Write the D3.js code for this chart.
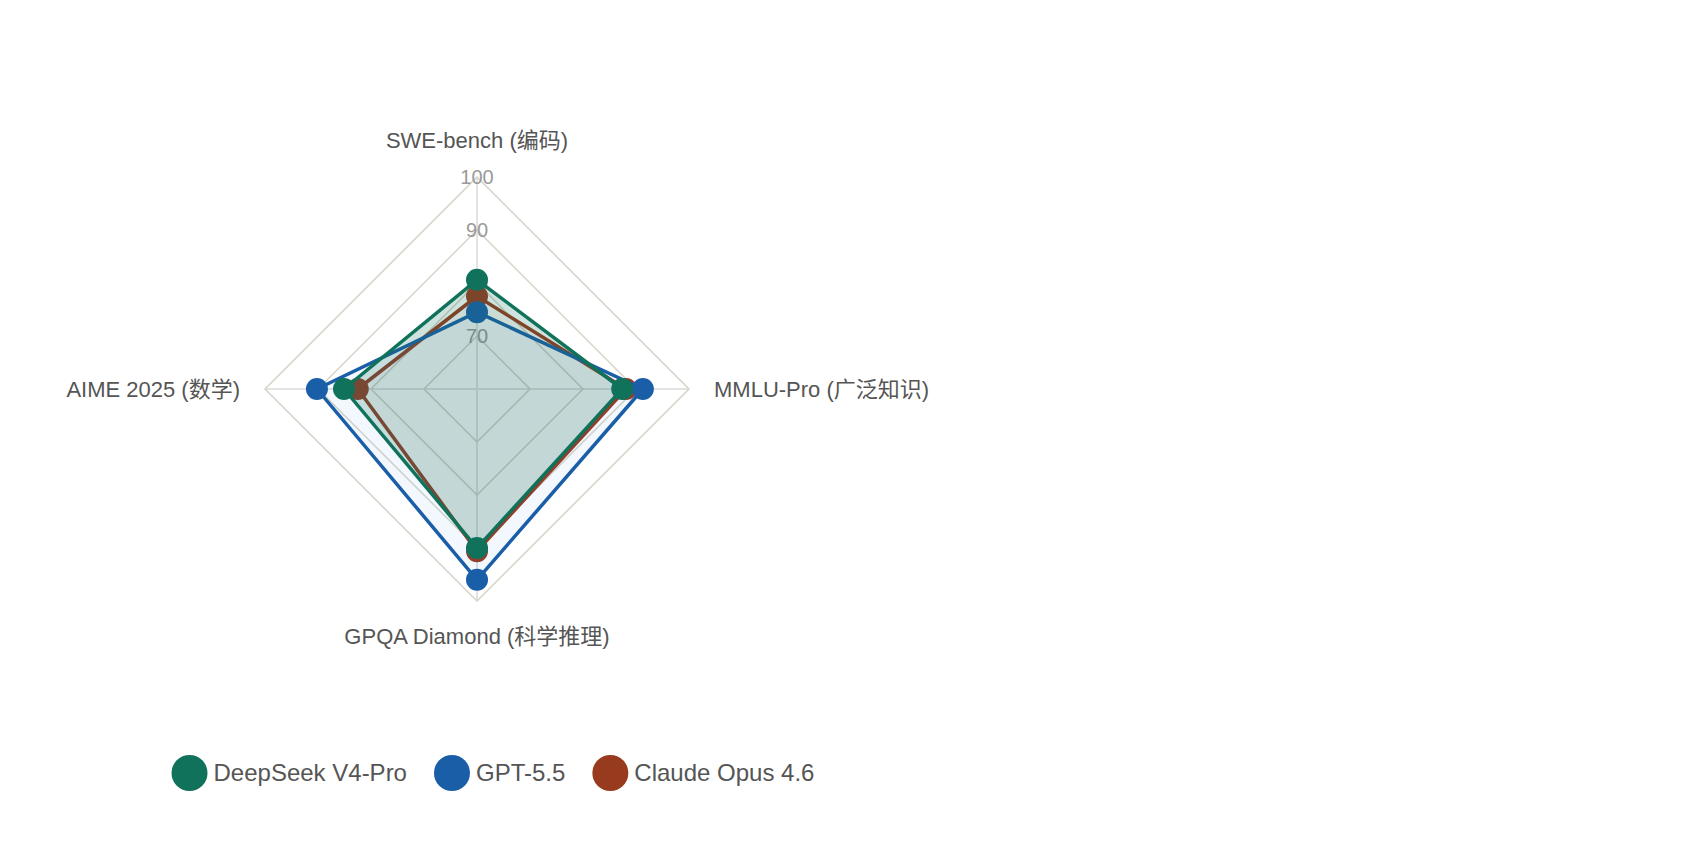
<!DOCTYPE html>
<html>
<head>
<meta charset="utf-8">
<script src="https://cdn.jsdelivr.net/npm/d3@7"></script>
<style>
  body { margin: 0; background: #fff; }
  text { font-family: "Liberation Sans", Arial, "Noto Sans CJK SC", sans-serif; }
</style>
</head>
<body>
<svg id="chart" width="1696" height="856"></svg>
<script>
// axes, clockwise from the top
var categories = ["SWE-bench (编码)", "MMLU-Pro (广泛知识)", "GPQA Diamond (科学推理)", "AIME 2025 (数学)"];
var seriesNames = ["DeepSeek V4-Pro", "GPT-5.5", "Claude Opus 4.6"];
var deepseekValues = [80.6, 87.4, 90.0, 85.1];
var gptValues = [74.5, 91.3, 96.0, 90.2];
var claudeValues = [77.5, 88.1, 90.6, 82.5];
var tickValues = [70, 80, 90, 100];
var tickLabels = ["70", "80", "90", "100"];

var colors = ["#10725a", "#1b5ea8", "#983a1e"];
var fillColors = ["#10725a", "#3b82e6", "#983a1e"];
var fillAlpha = [0.2, 0.06, 0.04];
var series = [deepseekValues, gptValues, claudeValues].map(function(v, i) {
    return { name: seriesNames[i], values: v, color: colors[i], fill: fillColors[i], alpha: fillAlpha[i] };
});

var cx = 477, cy = 389, R = 212;
var fig = d3.select("#chart");

var r = d3.scaleLinear().domain([60, 100]).range([0, R]);
var angle = function(i) {
    return -Math.PI / 2 + i * 2 * Math.PI / categories.length;
};
var point = function(i, v) {
    return [Math.cos(angle(i)) * r(v), Math.sin(angle(i)) * r(v)];
};

var g = fig.append("g").attr("transform", "translate(" + cx + "," + cy + ")");

// spokes
g.selectAll(".spoke")
    .data(categories)
    .enter().append("line")
    .attr("class", "spoke")
    .attr("x1", 0).attr("y1", 0)
    .attr("x2", function(d, i) { return point(i, 100)[0]; })
    .attr("y2", function(d, i) { return point(i, 100)[1]; })
    .attr("stroke", "#e3e3e3")
    .attr("stroke-width", 2);

// rings
g.selectAll(".ring")
    .data(tickValues)
    .enter().append("polygon")
    .attr("class", "ring")
    .attr("points", function(t) {
        return categories.map(function(c, i) { return point(i, t).join(","); }).join(" ");
    })
    .attr("fill", "none")
    .attr("stroke", "#d6d4c8")
    .attr("stroke-width", 1.5);

// tick labels
g.selectAll(".tick")
    .data(tickValues)
    .enter().append("text")
    .attr("class", "tick")
    .attr("x", 0)
    .attr("y", function(t) { return -r(t); })
    .attr("dy", "0.35em")
    .attr("text-anchor", "middle")
    .attr("font-size", 20)
    .attr("fill", "#9a9a9a")
    .text(function(t, i) { return tickLabels[i]; });

// point labels
g.selectAll(".plabel")
    .data(categories)
    .enter().append("text")
    .attr("class", "plabel")
    .attr("x", function(d, i) {
        var c = Math.cos(angle(i));
        return Math.abs(c) < 0.01 ? 0 : c * (R + 25);
    })
    .attr("y", function(d, i) {
        var s = Math.sin(angle(i));
        if (Math.abs(s) < 0.01) return 0;
        return s < 0 ? -(R + 37) : R + 35;
    })
    .attr("dy", "0.35em")
    .attr("text-anchor", function(d, i) {
        var c = Math.cos(angle(i));
        if (Math.abs(c) < 0.01) return "middle";
        return c > 0 ? "start" : "end";
    })
    .attr("font-size", 22)
    .attr("fill", "#555")
    .text(function(d) { return d; });

// datasets, last one drawn first so the first ends on top
var sets = g.selectAll(".set")
    .data(series.slice().reverse())
    .enter().append("g")
    .attr("class", "set");

sets.append("polygon")
    .attr("points", function(d) {
        return d.values.map(function(v, i) { return point(i, v).join(","); }).join(" ");
    })
    .attr("fill", function(d) { return d.fill; })
    .attr("fill-opacity", function(d) { return d.alpha; })
    .attr("stroke", function(d) { return d.color; })
    .attr("stroke-width", 3.5)
    .attr("stroke-linejoin", "round");

sets.selectAll("circle")
    .data(function(d) {
        return d.values.map(function(v, i) { return { p: point(i, v), color: d.color }; });
    })
    .enter().append("circle")
    .attr("cx", function(d) { return d.p[0]; })
    .attr("cy", function(d) { return d.p[1]; })
    .attr("r", 11)
    .attr("fill", function(d) { return d.color; });

// legend
var legend = fig.append("g").attr("transform", "translate(0,773)");
var items = legend.selectAll(".item")
    .data(series)
    .enter().append("g")
    .attr("class", "item");
items.append("circle")
    .attr("r", 18)
    .attr("fill", function(d) { return d.color; });
items.append("text")
    .attr("x", 24)
    .attr("dy", "0.35em")
    .attr("font-size", 24)
    .attr("fill", "#555")
    .text(function(d) { return d.name; });

var widths = [];
items.each(function() {
    widths.push(18 + 24 + d3.select(this).select("text").node().getComputedTextLength());
});
var gap = 27;
var total = d3.sum(widths) + gap * (widths.length - 1);
var x = 493 - total / 2;
items.attr("transform", function(d, i) {
    var tx = x + 18;
    x += widths[i] + gap;
    return "translate(" + tx + ",0)";
});
</script>
</body>
</html>
